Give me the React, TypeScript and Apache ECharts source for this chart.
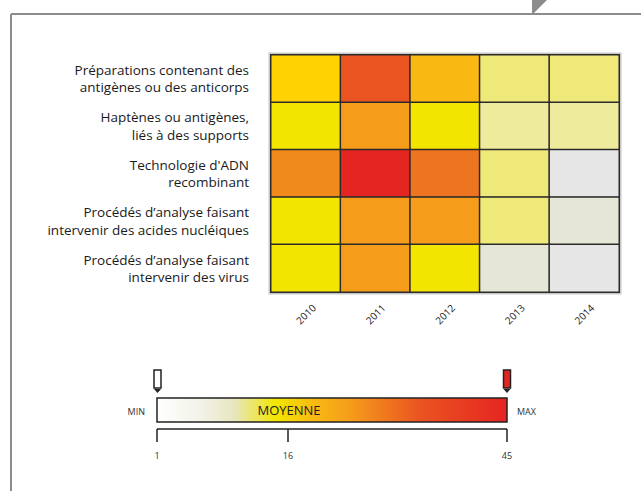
import React, { useEffect, useRef } from "react";
import * as echarts from "echarts";

const years = ["2010", "2011", "2012", "2013", "2014"];
const categories = [
  "Préparations contenant des\nantigènes ou des anticorps",
  "Haptènes ou antigènes,\nliés à des supports",
  "Technologie d'ADN\nrecombinant",
  "Procédés d’analyse faisant\nintervenir des acides nucléiques",
  "Procédés d’analyse faisant\nintervenir des virus",
];
// values per category row, per year (2010..2014)
const row0 = [21, 41, 25, 13, 13];
const row1 = [17, 29, 17, 9, 9];
const row2 = [33, 45, 37, 13, 1];
const row3 = [17, 29, 29, 13, 5];
const row4 = [17, 29, 17, 5, 1];
const rows = [row0, row1, row2, row3, row4];
const legendTicks = [1, 16, 45];
const scaleMin = 1;
const scaleMax = 45;

export default function App() {
  const ref = useRef<HTMLDivElement>(null);
  useEffect(() => {
    if (!ref.current) return;
    const chart = echarts.init(ref.current, undefined, { renderer: "svg" });
    const data: number[][] = [];
    rows.forEach((r, yi) => r.forEach((v, xi) => data.push([xi, yi, v])));
    const barX = 157;
    const barW = 350;
    const tickX = (t: number) => barX + ((t - scaleMin) / (scaleMax - scaleMin)) * barW;
    chart.setOption({
      animation: false,
      grid: { left: 271, top: 55, width: 348, height: 237 },
      xAxis: {
        type: "category",
        data: years,
        axisLine: { show: false },
        axisTick: { show: false },
        axisLabel: {
          rotate: 45,
          align: "center",
          verticalAlign: "middle",
          color: "#222",
          fontSize: 10,
          fontFamily: "Open Sans",
          margin: 22,
        },
      },
      yAxis: {
        type: "category",
        data: categories,
        inverse: true,
        axisLine: { show: false },
        axisTick: { show: false },
        axisLabel: { color: "#1a1a1a", fontSize: 13.5, fontFamily: "Open Sans", margin: 22, lineHeight: 17.5 },
      },
      visualMap: {
        min: scaleMin,
        max: scaleMax,
        show: false,
        inRange: {
          color: [
            "#e6e6e6", "#e6e6d6", "#efeb9c", "#efe97a", "#f2e500", "#ffd200",
            "#f9b912", "#f59d1b", "#f08a1a", "#ee7520", "#ea5421", "#e52521",
          ],
        },
      },
      series: [
        {
          type: "heatmap",
          data,
          itemStyle: { borderColor: "#2b2b2b", borderWidth: 1.5 },
        },
      ],
      graphic: [
        { type: "line", shape: { x1: 11, y1: 14, x2: 641, y2: 14 }, style: { stroke: "#8c8c8c", lineWidth: 2 } },
        { type: "line", shape: { x1: 11, y1: 14, x2: 11, y2: 491 }, style: { stroke: "#8c8c8c", lineWidth: 2 } },
        { type: "polygon", shape: { points: [[532, 0], [547, 0], [532, 15]] }, style: { fill: "#8c8c8c" } },
        { type: "rect", shape: { x: 270, y: 54, width: 350, height: 239 }, style: { fill: "none", stroke: "#c8c8c8", lineWidth: 3 }, z: -1 },
        // legend gradient bar
        {
          type: "rect",
          shape: { x: barX, y: 398, width: barW, height: 24 },
          style: {
            fill: new echarts.graphic.LinearGradient(0, 0, 1, 0, [
              { offset: 0, color: "#ffffff" },
              { offset: 0.12, color: "#f3f3ea" },
              { offset: 0.22, color: "#e8e6c0" },
              { offset: 0.34, color: "#f2e600" },
              { offset: 0.45, color: "#f9b912" },
              { offset: 0.55, color: "#f59d1b" },
              { offset: 0.75, color: "#ea5421" },
              { offset: 1, color: "#e52521" },
            ]),
            stroke: "#222",
            lineWidth: 1.5,
          },
        },
        { type: "text", x: 289, y: 410, style: { text: "MOYENNE", fill: "#222", font: "13px 'Open Sans'", align: "center", verticalAlign: "middle" } },
        { type: "text", x: 145, y: 411, style: { text: "MIN", fill: "#333", font: "9px 'Open Sans'", align: "right", verticalAlign: "middle" } },
        { type: "text", x: 517, y: 411, style: { text: "MAX", fill: "#333", font: "9px 'Open Sans'", align: "left", verticalAlign: "middle" } },
        // markers
        { type: "rect", shape: { x: 154, y: 370, width: 7, height: 18 }, style: { fill: "#fff", stroke: "#222", lineWidth: 1.5 } },
        { type: "polygon", shape: { points: [[154, 389], [161, 389], [157.5, 393]] }, style: { fill: "#222" } },
        { type: "rect", shape: { x: 503.5, y: 370, width: 7, height: 18 }, style: { fill: "#e52521", stroke: "#222", lineWidth: 1.5 } },
        { type: "polygon", shape: { points: [[503.5, 389], [510.5, 389], [507, 393]] }, style: { fill: "#222" } },
        // scale axis
        { type: "line", shape: { x1: barX, y1: 429, x2: barX + barW, y2: 429 }, style: { stroke: "#222", lineWidth: 1.5 } },
        ...legendTicks.map((t) => {
          const x = t === 16 ? 288 : tickX(t);
          return { type: "line", shape: { x1: x, y1: 429, x2: x, y2: 442 }, style: { stroke: "#222", lineWidth: 1.5 } };
        }),
        ...legendTicks.map((t) => {
          const x = t === 16 ? 288 : tickX(t);
          return { type: "text", x, y: 455, style: { text: String(t), fill: "#333", font: "9px 'Open Sans'", align: "center", verticalAlign: "middle" } };
        }),
      ],
    });
    return () => chart.dispose();
  }, []);
  return <div ref={ref} style={{ width: 641, height: 491, position: "absolute", left: 0, top: 0, background: "#fff" }} />;
}
